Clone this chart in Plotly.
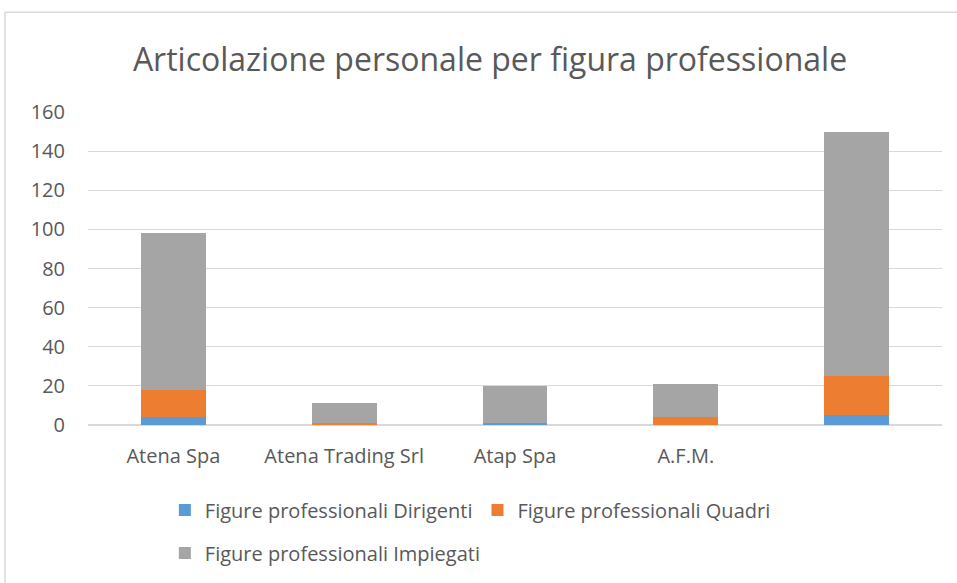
import plotly.graph_objects as go

categories = ["Atena Spa", "Atena Trading Srl", "Atap Spa", "A.F.M.", " "]
dirigenti = [4, 0, 1, 0, 5]
quadri = [14, 1, 0, 4, 20]
impiegati = [80, 10, 19, 17, 125]
series_names = ["Figure professionali Dirigenti", "Figure professionali Quadri", "Figure professionali Impiegati"]
colors = ["#5B9BD5", "#ED7D31", "#A5A5A5"]
y_ticks = [0, 20, 40, 60, 80, 100, 120, 140, 160]

FONT = "Open Sans"
TXT = "#595959"

fig = go.Figure()
for name, vals, col, lg in zip(series_names, [dirigenti, quadri, impiegati], colors, ["legend", "legend", "legend2"]):
    fig.add_trace(go.Bar(x=categories, y=vals, name=name, marker=dict(color=col, line=dict(width=0)), legend=lg))

fig.update_layout(
    width=957, height=583,
    barmode="stack", bargap=0.62,
    paper_bgcolor="white", plot_bgcolor="white",
    margin=dict(l=88, r=15, t=112, b=157),
    title=dict(text="Articolazione personale per figura professionale", x=(490 - 88) / 854, xref="paper", xanchor="center",
               y=0.897, yanchor="middle", font=dict(family=FONT, size=32, color=TXT)),
    font=dict(family=FONT, color=TXT),
    xaxis=dict(tickfont=dict(size=20, color=TXT), ticklabelstandoff=17, showgrid=False, showline=False),
    yaxis=dict(range=[0, 160], tickvals=y_ticks, tickfont=dict(size=20, color=TXT), gridcolor="#D9D9D9",
               zeroline=True, zerolinecolor="#D9D9D9", ticklabelstandoff=22, showline=False),
    legend=dict(orientation="h", x=0.09, xanchor="left", y=(426 - 510) / 314, yanchor="middle",
                font=dict(size=20, color=TXT), itemwidth=30, traceorder="normal", bgcolor="rgba(0,0,0,0)"),
    legend2=dict(orientation="h", x=0.09, xanchor="left", y=(426 - 553) / 314, yanchor="middle",
                 font=dict(size=20, color=TXT), itemwidth=30, traceorder="normal", bgcolor="rgba(0,0,0,0)"),
    shapes=[dict(type="rect", xref="paper", yref="paper", x0=(5 - 88) / 854, x1=(960 - 88) / 854,
                 y0=-0.53, y1=(426 - 12) / 314, line=dict(color="#D9D9D9", width=1.5), layer="below")],
)

fig.write_html("out.html")
